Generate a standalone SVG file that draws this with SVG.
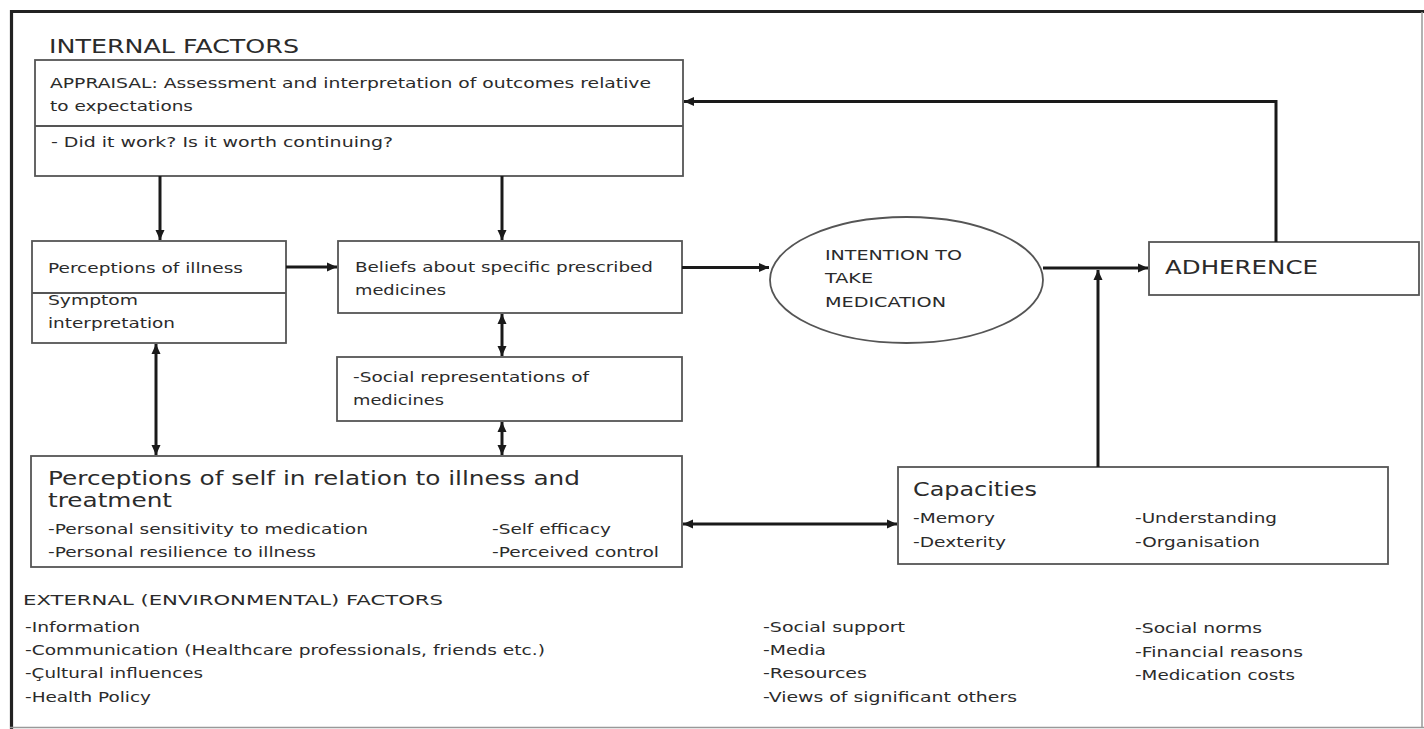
<svg xmlns="http://www.w3.org/2000/svg" width="1424" height="729" viewBox="0 0 1424 729">
<defs>
<marker id="ah" markerUnits="userSpaceOnUse" markerWidth="11" markerHeight="10" refX="10" refY="5" orient="auto-start-reverse" viewBox="0 0 11 10">
<path d="M0,0.5 L10,5 L0,9.5 z" fill="#1a1a1a"/>
</marker>
<style>
text{font-family:"DejaVu Sans","Verdana","Liberation Sans",sans-serif;fill:#2b2b2b;font-size:14px}
.big{font-size:19.5px}
.box{fill:none;stroke:#555;stroke-width:1.8}
.div{stroke:#555;stroke-width:1.8}
.con{fill:none;stroke:#1a1a1a;stroke-width:3}
.frame{stroke:#222;stroke-width:3.2}
.frame2{stroke:#999;stroke-width:1.5}
</style>
</defs>
<rect width="1424" height="729" fill="#ffffff"/>
<g id="frame">
<line class="frame" x1="10" y1="11.5" x2="1424" y2="11.5"/>
<line class="frame" x1="11.5" y1="10" x2="11.5" y2="729"/>
<line class="frame2" x1="10" y1="727.5" x2="1424" y2="727.5"/>
<line class="frame2" x1="1422" y1="12" x2="1422" y2="728"/>
</g>
<text id="internal-title" class="big" x="49" y="53" textLength="250" lengthAdjust="spacingAndGlyphs">INTERNAL FACTORS</text>
<g id="appraisal">
<rect class="box" x="35" y="60" width="648" height="116"/>
<line class="div" x1="35" y1="126" x2="683" y2="126"/>
<text x="50" y="88" textLength="601" lengthAdjust="spacingAndGlyphs">APPRAISAL: Assessment and interpretation of outcomes relative</text>
<text x="50" y="111" textLength="143" lengthAdjust="spacingAndGlyphs">to expectations</text>
<text x="51" y="147" textLength="342" lengthAdjust="spacingAndGlyphs">- Did it work? Is it worth continuing?</text>
</g>
<g id="perceptions-illness">
<rect class="box" x="32" y="241" width="254" height="102"/>
<line class="div" x1="32" y1="293" x2="286" y2="293"/>
<text x="48" y="273" textLength="195" lengthAdjust="spacingAndGlyphs">Perceptions of illness</text>
<text x="48" y="305" textLength="90" lengthAdjust="spacingAndGlyphs">Symptom</text>
<text x="48" y="328" textLength="127" lengthAdjust="spacingAndGlyphs">interpretation</text>
</g>
<g id="beliefs">
<rect class="box" x="338" y="241" width="344" height="72"/>
<text x="355" y="272" textLength="298" lengthAdjust="spacingAndGlyphs">Beliefs about specific prescribed</text>
<text x="355" y="295" textLength="91" lengthAdjust="spacingAndGlyphs">medicines</text>
</g>
<g id="intention">
<ellipse class="box" cx="906.5" cy="280" rx="136.5" ry="63"/>
<text x="825" y="260" textLength="137" lengthAdjust="spacingAndGlyphs">INTENTION TO</text>
<text x="825" y="283" textLength="48" lengthAdjust="spacingAndGlyphs">TAKE</text>
<text x="825" y="307" textLength="121" lengthAdjust="spacingAndGlyphs">MEDICATION</text>
</g>
<g id="adherence">
<rect class="box" x="1149" y="242" width="270" height="53"/>
<text class="big" x="1165" y="274" textLength="153" lengthAdjust="spacingAndGlyphs">ADHERENCE</text>
</g>
<g id="social-representations">
<rect class="box" x="337" y="357" width="345" height="64"/>
<text x="353" y="382" textLength="236" lengthAdjust="spacingAndGlyphs">-Social representations of</text>
<text x="353" y="405" textLength="91" lengthAdjust="spacingAndGlyphs">medicines</text>
</g>
<g id="perceptions-self">
<rect class="box" x="31" y="456" width="651" height="111"/>
<text class="big" x="48" y="485" textLength="532" lengthAdjust="spacingAndGlyphs">Perceptions of self in relation to illness and</text>
<text class="big" x="48" y="507" textLength="124" lengthAdjust="spacingAndGlyphs">treatment</text>
<text x="48" y="534" textLength="320" lengthAdjust="spacingAndGlyphs">-Personal sensitivity to medication</text>
<text x="48" y="557" textLength="268" lengthAdjust="spacingAndGlyphs">-Personal resilience to illness</text>
<text x="492" y="534" textLength="119" lengthAdjust="spacingAndGlyphs">-Self efficacy</text>
<text x="492" y="557" textLength="167" lengthAdjust="spacingAndGlyphs">-Perceived control</text>
</g>
<g id="capacities">
<rect class="box" x="898" y="467" width="490" height="97"/>
<text class="big" x="913" y="496" textLength="124" lengthAdjust="spacingAndGlyphs">Capacities</text>
<text x="913" y="523" textLength="82" lengthAdjust="spacingAndGlyphs">-Memory</text>
<text x="1135" y="523" textLength="142" lengthAdjust="spacingAndGlyphs">-Understanding</text>
<text x="913" y="547" textLength="93" lengthAdjust="spacingAndGlyphs">-Dexterity</text>
<text x="1135" y="547" textLength="125" lengthAdjust="spacingAndGlyphs">-Organisation</text>
</g>
<g id="external-factors">
<text x="23" y="605" textLength="420" lengthAdjust="spacingAndGlyphs">EXTERNAL (ENVIRONMENTAL) FACTORS</text>
<text x="25" y="632" textLength="115" lengthAdjust="spacingAndGlyphs">-Information</text>
<text x="25" y="655" textLength="520" lengthAdjust="spacingAndGlyphs">-Communication (Healthcare professionals, friends etc.)</text>
<text x="25" y="678" textLength="178" lengthAdjust="spacingAndGlyphs">-Çultural influences</text>
<text x="25" y="702" textLength="126" lengthAdjust="spacingAndGlyphs">-Health Policy</text>
<text x="763" y="632" textLength="142" lengthAdjust="spacingAndGlyphs">-Social support</text>
<text x="763" y="655" textLength="63" lengthAdjust="spacingAndGlyphs">-Media</text>
<text x="763" y="678" textLength="104" lengthAdjust="spacingAndGlyphs">-Resources</text>
<text x="763" y="702" textLength="254" lengthAdjust="spacingAndGlyphs">-Views of significant others</text>
<text x="1135" y="633" textLength="127" lengthAdjust="spacingAndGlyphs">-Social norms</text>
<text x="1135" y="657" textLength="168" lengthAdjust="spacingAndGlyphs">-Financial reasons</text>
<text x="1135" y="680" textLength="160" lengthAdjust="spacingAndGlyphs">-Medication costs</text>
</g>
<g id="connectors">
<path class="con" d="M160,176 V240" marker-end="url(#ah)"/>
<path class="con" d="M502,176 V240" marker-end="url(#ah)"/>
<path class="con" d="M286,267 H337" marker-end="url(#ah)"/>
<path class="con" d="M682,267.5 H769" marker-end="url(#ah)"/>
<path class="con" d="M1043,268 H1148" marker-end="url(#ah)"/>
<path class="con" d="M1098,467 V270" marker-end="url(#ah)"/>
<path class="con" d="M1276,242 V101.5 H684" marker-end="url(#ah)"/>
<path class="con" d="M502,314 V356" marker-start="url(#ah)" marker-end="url(#ah)"/>
<path class="con" d="M156,344 V455" marker-start="url(#ah)" marker-end="url(#ah)"/>
<path class="con" d="M502,422 V455" marker-start="url(#ah)" marker-end="url(#ah)"/>
<path class="con" d="M683,524 H897" marker-start="url(#ah)" marker-end="url(#ah)"/>
</g>
</svg>
